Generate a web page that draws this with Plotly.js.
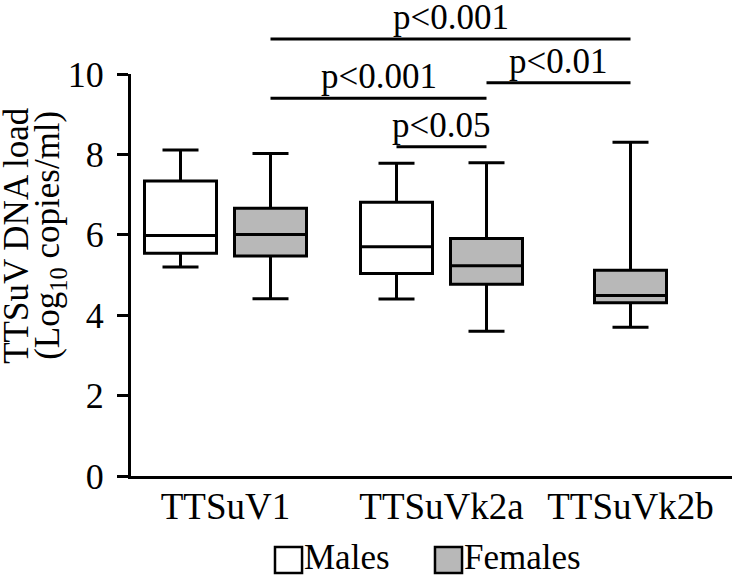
<!DOCTYPE html>
<html><head><meta charset="utf-8">
<script src="https://cdn.plot.ly/plotly-3.0.1.min.js"></script>
<style>html,body{margin:0;padding:0;background:#fff}</style>
</head><body><div id="chart" style="width:733px;height:578px"></div>
<script>
// ---- data ----
const categories   = ['TTSuV1', 'TTSuVk2a', 'TTSuVk2b'];
const seriesNames  = ['Males', 'Females'];
const maleLower    = [5.20, 4.40, null];
const maleQ1       = [5.54, 5.04, null];
const maleMedian   = [5.98, 5.70, null];
const maleQ3       = [7.34, 6.81, null];
const maleUpper    = [8.11, 7.78, null];
const femaleLower  = [4.41, 3.60, 3.70];
const femaleQ1     = [5.47, 4.77, 4.31];
const femaleMedian = [6.01, 5.23, 4.49];
const femaleQ3     = [6.66, 5.91, 5.12];
const femaleUpper  = [8.02, 7.79, 8.30];
const yTickValues  = [0, 2, 4, 6, 8, 10];
const yTitleLines  = ['TTSuV DNA load', '(Log<sub>10</sub> copies/ml)'];
// significance comparisons: [category, series] pairs and label
const compFrom  = [['TTSuV1','Females'], ['TTSuVk2a','Females'], ['TTSuV1','Females'], ['TTSuVk2a','Males']];
const compTo    = [['TTSuVk2b','Females'], ['TTSuVk2b','Females'], ['TTSuVk2a','Females'], ['TTSuVk2a','Females']];
const compLabel = ['p<0.001', 'p<0.01', 'p<0.001', 'p<0.05'];

// ---- layout constants ----
const slotX = { Males: [0.55, 2.95, null], Females: [1.55, 3.95, 5.55] };
const compLevel = [1.087, 0.978, 0.9396, 0.819]; // paper y of each bar
const xMax = 601 / 90;
const fillColor = { Males: '#ffffff', Females: '#b8b8b8' };
const FONT = '"Liberation Serif", "Times New Roman", Times, serif';

function boxTrace(name, lo, q1, med, q3, hi) {
  const slots = slotX[name];
  const idx = categories.map((c, i) => i).filter(i => slots[i] != null && med[i] != null);
  return {
    type: 'box', name: name,
    x: idx.map(i => slots[i]),
    lowerfence: idx.map(i => lo[i]),
    q1: idx.map(i => q1[i]),
    median: idx.map(i => med[i]),
    q3: idx.map(i => q3[i]),
    upperfence: idx.map(i => hi[i]),
    width: 0.8, whiskerwidth: 0.5, boxpoints: false,
    fillcolor: fillColor[name],
    line: { color: '#000', width: 3 },
    hoverinfo: 'skip', showlegend: false
  };
}

const traces = [
  boxTrace('Males', maleLower, maleQ1, maleMedian, maleQ3, maleUpper),
  boxTrace('Females', femaleLower, femaleQ1, femaleMedian, femaleQ3, femaleUpper)
];

const groupCenters = categories.map((c, i) => {
  const v = seriesNames.map(s => slotX[s][i]).filter(v => v != null);
  return v.reduce((a, b) => a + b, 0) / v.length;
});

function slotOf(pair) { return slotX[pair[1]][categories.indexOf(pair[0])]; }

const shapes = [];
const annotations = [];
compLabel.forEach((lab, k) => {
  const x0 = slotOf(compFrom[k]), x1 = slotOf(compTo[k]);
  shapes.push({ type: 'line', xref: 'x', yref: 'paper', x0: x0, x1: x1, y0: compLevel[k], y1: compLevel[k],
    line: { color: '#000', width: 3 } });
  annotations.push({ xref: 'x', yref: 'paper', x: (x0 + x1) / 2, y: compLevel[k], text: lab,
    showarrow: false, xanchor: 'center', yanchor: 'bottom', yshift: 1, borderpad: 0,
    font: { family: FONT, size: 35, color: '#000' } });
});

// custom legend
const legendX = [0.2396, 0.5058];
seriesNames.forEach((s, i) => {
  shapes.push({ type: 'rect', xref: 'paper', yref: 'paper', x0: legendX[i], x1: legendX[i] + 0.045,
    y0: -0.2413, y1: -0.1766, fillcolor: fillColor[s], line: { color: '#000', width: 2.5 } });
  annotations.push({ xref: 'paper', yref: 'paper', x: legendX[i] + 0.046, y: -0.2537, text: s,
    showarrow: false, xanchor: 'left', yanchor: 'bottom', borderpad: 0,
    font: { family: FONT, size: 35, color: '#000' } });
});

// y-axis title (two tightly spaced lines)
const yTitleX = [-0.1897, -0.1348];
yTitleLines.forEach((t, i) => {
  annotations.push({ xref: 'paper', yref: 'paper', x: yTitleX[i], y: 0.60, textangle: -90,
    text: t, showarrow: false, xanchor: 'center', yanchor: 'middle', borderpad: 0,
    font: { family: FONT, size: 35, color: '#000' } });
});

const layout = {
  width: 733, height: 578,
  margin: { l: 131, r: 1, t: 74, b: 102, pad: 0 },
  paper_bgcolor: '#fff', plot_bgcolor: '#fff',
  showlegend: false,
  font: { family: FONT, color: '#000' },
  xaxis: { range: [0, xMax], tickvals: groupCenters, ticktext: categories, ticks: '',
    ticklabelstandoff: -4,
    showline: true, linewidth: 3, linecolor: '#000', showgrid: false, zeroline: false,
    tickfont: { family: FONT, size: 37, color: '#000' }, fixedrange: true },
  yaxis: { range: [0, 10], tickvals: yTickValues, ticks: 'outside', ticklen: 11, tickwidth: 3,
    ticklabelstandoff: 6,
    tickcolor: '#000', showline: true, linewidth: 3, linecolor: '#000', showgrid: false,
    zeroline: false, tickfont: { family: FONT, size: 36, color: '#000' }, fixedrange: true },
  shapes: shapes,
  annotations: annotations
};

Plotly.newPlot('chart', traces, layout, { displayModeBar: false, staticPlot: true });
</script>
</body></html>
